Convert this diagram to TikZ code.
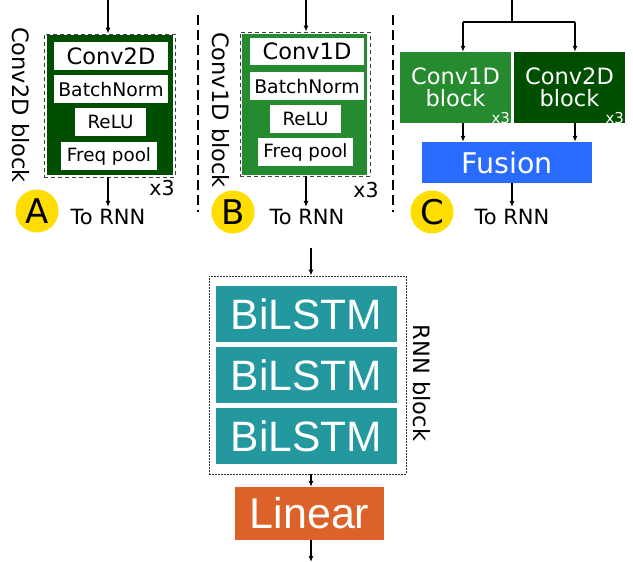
\documentclass[tikz,border=0pt]{standalone}
\usepackage{fontspec}
\setmainfont{DejaVu Sans}
\newfontfamily\libsans{Liberation Sans}
\usetikzlibrary{arrows.meta}
\definecolor{dkgreen}{RGB}{0,78,0}
\definecolor{mdgreen}{RGB}{38,138,46}
\definecolor{fusblue}{RGB}{41,106,255}
\definecolor{tealc}{RGB}{35,152,158}
\definecolor{orangec}{RGB}{221,98,41}
\definecolor{yellowc}{RGB}{255,221,0}
\newcommand{\fs}[1]{\fontsize{#1}{#1}\selectfont}
\tikzset{
  arr/.style={line width=1.4pt,-{Latex[length=6pt,width=5pt]}},
  plainline/.style={line width=1.4pt},
  dashbox/.style={draw=black!75,dashed,dash pattern=on 4pt off 3pt,line width=0.8pt,inner sep=0pt},
  finebox/.style={draw=black!80,dash pattern=on 2pt off 1pt,line width=0.8pt,inner sep=0pt},
  sep/.style={line width=1.6pt,dash pattern=on 10pt off 5pt},
  fillbox/.style={inner sep=0pt,draw=none},
  wbox/.style={fill=white,inner sep=0pt,text=black},
  lab/.style={inner sep=0pt,text=black},
  circ/.style={circle,fill=yellowc,minimum size=43pt,inner sep=0pt,font=\fs{34}},
}
\begin{document}
\begin{tikzpicture}[x=1pt,y=-1pt]
\useasboundingbox (0,0) rectangle (633,562);
% ---------- Panel A ----------
\node[dashbox,minimum width=131,minimum height=143] (boxA) at (109.5,105.5) {};
\node[fillbox,fill=dkgreen,minimum width=126,minimum height=140] (fillA) at (110,105) {};
\node[wbox,minimum width=114,minimum height=28,font=\fs{22.5}] (convA) at (111,56) {Conv2D};
\node[wbox,minimum width=114,minimum height=28,font=\fs{18.8}] (bnA) at (111,89) {BatchNorm};
\node[wbox,minimum width=71,minimum height=28,font=\fs{18.3}] (reluA) at (110.5,122) {ReLU};
\node[wbox,minimum width=96,minimum height=28,font=\fs{18.3}] (poolA) at (109,156) {Freq pool};
\coordinate (inA) at (108,0);
\node[lab,font=\fs{20.5}] (x3A) at (162,188) {x3};
\node[lab,rotate=-90,font=\fs{22.5}] (lblA) at (21,105) {Conv2D block};
\node[circ] (cA) at (37,211) {A};
\node[lab,font=\fs{21},inner sep=2pt] (toA) at (108,217) {To RNN};
\draw[arr] (inA) -- (inA |- boxA.north);
\draw[arr] (boxA.south -| toA) -- (toA.north);
% separators
\coordinate (s1t) at (198,15); \coordinate (s1b) at (198,212);
\coordinate (s2t) at (393,15); \coordinate (s2b) at (393,212);
\draw[sep] (s1t) -- (s1b);
\draw[sep] (s2t) -- (s2b);
% ---------- Panel B ----------
\node[dashbox,minimum width=130,minimum height=144] (boxB) at (305,104) {};
\node[fillbox,fill=mdgreen,minimum width=125,minimum height=141] (fillB) at (304.5,104.5) {};
\node[wbox,minimum width=114,minimum height=27,font=\fs{22.5}] (convB) at (307,51.5) {Conv1D};
\node[wbox,minimum width=114,minimum height=28,font=\fs{18.8}] (bnB) at (307,86) {BatchNorm};
\node[wbox,minimum width=71,minimum height=28,font=\fs{18.3}] (reluB) at (305.5,119) {ReLU};
\node[wbox,minimum width=95,minimum height=28,font=\fs{18.3}] (poolB) at (305.5,152) {Freq pool};
\coordinate (inB) at (306,0);
\node[lab,font=\fs{20.5}] (x3B) at (366,190) {x3};
\node[lab,rotate=-90,font=\fs{22.5}] (lblB) at (221,110) {Conv1D block};
\node[circ] (cB) at (233,212) {B};
\node[lab,font=\fs{21},inner sep=2pt] (toB) at (307,217) {To RNN};
\draw[arr] (inB) -- (inB |- boxB.north);
\draw[arr] (boxB.south -| inB) -- (inB |- toB.north);
% ---------- Panel C ----------
\node[fillbox,fill=mdgreen,minimum width=111,minimum height=71,text=white,align=center,font=\fs{22.5}] (c1) at (455.5,87.5) {Conv1D\\[-1pt]block};
\node[fillbox,fill=dkgreen,minimum width=111,minimum height=71,text=white,align=center,font=\fs{22.5}] (c2) at (569.5,87.5) {Conv2D\\[-1pt]block};
\node[lab,text=white,font=\fs{15},anchor=south east] (x3c1) at ([xshift=-1pt,yshift=-1pt]c1.south east) {x3};
\node[lab,text=white,font=\fs{15},anchor=south east] (x3c2) at ([xshift=-1pt,yshift=-1pt]c2.south east) {x3};
\node[fillbox,fill=fusblue,minimum width=170,minimum height=41,text=white,font=\fs{28.5}] (fus) at (507,162.5) {Fusion};
\coordinate (inC) at (512,0);
\coordinate (jC) at (512,22);
\coordinate (a1) at (463,22);
\coordinate (a2) at (575,22);
\draw[plainline] (inC) -- (jC);
\draw[plainline] (a1) -- (a2);
\draw[arr] (a1) -- (a1 |- c1.north);
\draw[arr] (a2) -- (a2 |- c2.north);
\draw[arr] (a1 |- c1.south) -- (a1 |- fus.north);
\draw[arr] (a2 |- c2.south) -- (a2 |- fus.north);
\node[circ] (cC) at (432,212) {C};
\node[lab,font=\fs{21},inner sep=2pt] (toC) at (512,217) {To RNN};
\draw[arr] (fus.south -| toC) -- (toC.north);
% ---------- RNN ----------
\node[finebox,minimum width=197,minimum height=198] (rnn) at (307.5,375) {};
\node[fillbox,fill=tealc,minimum width=181,minimum height=56,text=white,font=\libsans\fs{42.5}] (l1) at (306.5,314) {BiLSTM};
\node[fillbox,fill=tealc,minimum width=181,minimum height=56,text=white,font=\libsans\fs{42.5}] (l2) at (306.5,375) {BiLSTM};
\node[fillbox,fill=tealc,minimum width=181,minimum height=56,text=white,font=\libsans\fs{42.5}] (l3) at (306.5,436) {BiLSTM};
\node[lab,rotate=-90,font=\fs{22.5}] (lblR) at (422,383) {RNN block};
\node[fillbox,fill=orangec,minimum width=149,minimum height=53,text=white,font=\libsans\fs{43}] (lin) at (309.5,513.5) {Linear};
\coordinate (inR) at (311,248);
\coordinate (outR) at (311,562);
\draw[arr] (inR) -- (inR |- rnn.north);
\draw[arr] (rnn.south -| inR) -- (inR |- lin.north);
\draw[arr] (lin.south -| inR) -- (outR);
\end{tikzpicture}
\end{document}
